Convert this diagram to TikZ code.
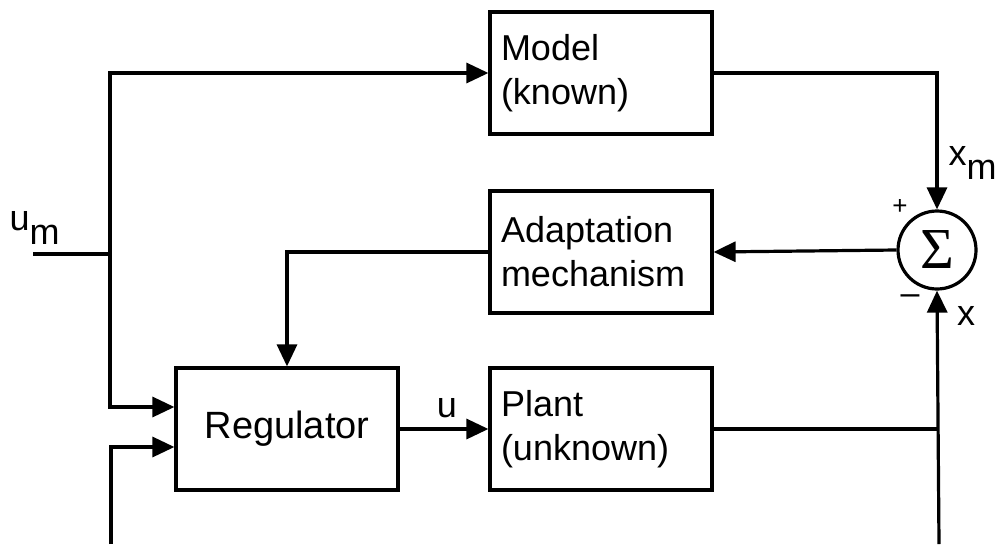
\documentclass[tikz,border=0pt]{standalone}
\usepackage{fontspec}
\setmainfont{Liberation Sans}
\newfontfamily\sigmafont{Liberation Serif}
\usetikzlibrary{arrows.meta,calc}
\begin{document}
\begin{tikzpicture}[x=1pt,y=-1pt,
  line width=3.2pt,
  font=\fontsize{36}{44}\selectfont,
  block/.style={draw, rectangle, minimum width=222pt, minimum height=122pt,
    inner xsep=11pt, text width=200pt, align=left},
  sig/.style={-{Triangle[length=22pt,width=20pt]}},
  lbl/.style={inner sep=0pt}]
\useasboundingbox (0,0) rectangle (1000,544);

% blocks
\node[block] (model) at (601,73) {Model\\(known)};
\node[block] (adapt) at (601,252) {Adaptation\\mechanism};
\node[block] (plant) at (601,429) {Plant\\(unknown)};
\node[block, align=center, font=\fontsize{38}{44}\selectfont] (reg) at (287,429) {Regulator};

% summing junction
\node[draw, circle, minimum size=78pt, inner sep=0pt] (sum) at (937,250)
  {\sigmafont\fontsize{58}{58}\selectfont Σ};

% free ends
\coordinate (umin) at (33,254);
\coordinate (split) at (110,254);
\coordinate (bl) at (111,544);
\coordinate (br) at (939,544);

% connections
\draw (umin) -- (split);
\draw[sig] (split) |- (model.west);
\draw[sig] (split) |- ([yshift=22pt]reg.west);
\draw[sig] (bl) |- ([yshift=-18pt]reg.west);
\draw[sig] (reg.east) -- (plant.west);
\draw[sig] (model.east) -| (sum.north);
\draw[sig] (sum.west) -- (adapt.east);
\draw[sig] (adapt.west) -| (reg.north);
\draw (plant.east) -- (plant.east -| br);
\draw[sig] (br) -- (sum.south);

% signal labels
\node[lbl, anchor=south west] (lum) at (8,246) {u\raisebox{-14pt}{m}};
\node[lbl, anchor=south west] (lxm) at (947,181) {x\raisebox{-14pt}{m}};
\node[lbl] (lx) at (966,316) {x};
\node[lbl] (lu) at (447,408) {u};
\node[lbl, font=\fontsize{26}{26}\selectfont] (lplus) at (900,207) {+};
\node[lbl, font=\fontsize{34}{34}\selectfont] (lminus) at (910,300) {–};
\end{tikzpicture}
\end{document}
